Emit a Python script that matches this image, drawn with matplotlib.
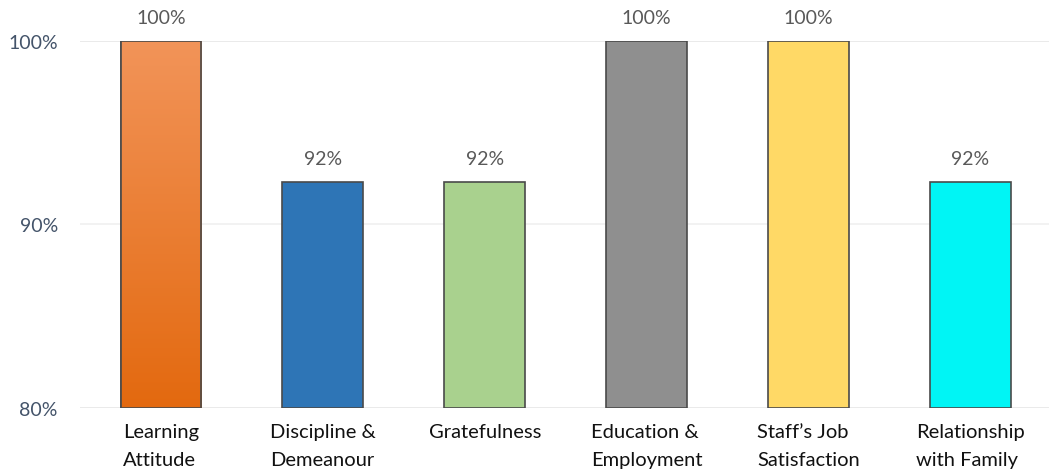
import numpy as np
import matplotlib.pyplot as plt
from matplotlib.colors import LinearSegmentedColormap

categories = ['Learning\nAttitude', 'Discipline &\nDemeanour', 'Gratefulness',
              'Education &\nEmployment', "Staff\u2019s Job\nSatisfaction", 'Relationship\nwith Family']
values = [100, 92.3, 92.3, 100, 100, 92.3]
labels = ['100%', '92%', '92%', '100%', '100%', '92%']
colors = ['#EE7F3A', '#2E75B6', '#A9D18E', '#8F8F8F', '#FFD966', '#00F5F5']

plt.rcParams['font.family'] = ['Lato', 'DejaVu Sans']

fig = plt.figure(figsize=(10.49, 4.77), dpi=100)
ax = fig.add_axes([0.0763, 0.1426, 0.926, 0.7694])

x = np.arange(len(categories))
base = 80
bars = ax.bar(x, np.array(values) - base, bottom=base, width=0.5, color=colors,
              edgecolor='#4a4a4a', linewidth=1.2, zorder=3)

# gradient fill for the first bar
orange = LinearSegmentedColormap.from_list('orange', ['#E3690F', '#F29459'])
b0 = bars[0]
grad = np.linspace(0, 1, 256).reshape(-1, 1)
img = ax.imshow(grad, cmap=orange, origin='lower', aspect='auto', zorder=3.5,
                extent=[b0.get_x(), b0.get_x() + b0.get_width(), b0.get_y(), b0.get_y() + b0.get_height()])
img.set_clip_path(b0)
ax.bar(x[:1], np.array(values[:1]) - base, bottom=base, width=0.5, color='none',
       edgecolor='#4a4a4a', linewidth=1.2, zorder=4)

for xi, v, lab in zip(x, values, labels):
    ax.annotate(lab, (xi, v), xytext=(0, 11), textcoords='offset points',
                ha='center', va='bottom', fontsize=14, color='#595959')

ax.set_xlim(-0.5, 5.5)
ax.set_ylim(80, 100)
ax.set_yticks([80, 90, 100])
ax.set_yticklabels(['80%', '90%', '100%'], fontsize=14, color='#44546A')
ax.yaxis.grid(True, color='#E6E6E6', linewidth=1.2, zorder=0)
ax.get_ygridlines()[1].set_color('#F0F0F0')
ax.set_xticks(x)
ax.set_xticklabels(categories, fontsize=14.5, color='#111111', multialignment='left',
                   va='top', linespacing=1.75)
ax.tick_params(axis='both', length=0)
ax.tick_params(axis='x', pad=11)
ax.tick_params(axis='y', pad=16)
for s in ax.spines.values():
    s.set_visible(False)

plt.savefig('out.png', dpi=100)
